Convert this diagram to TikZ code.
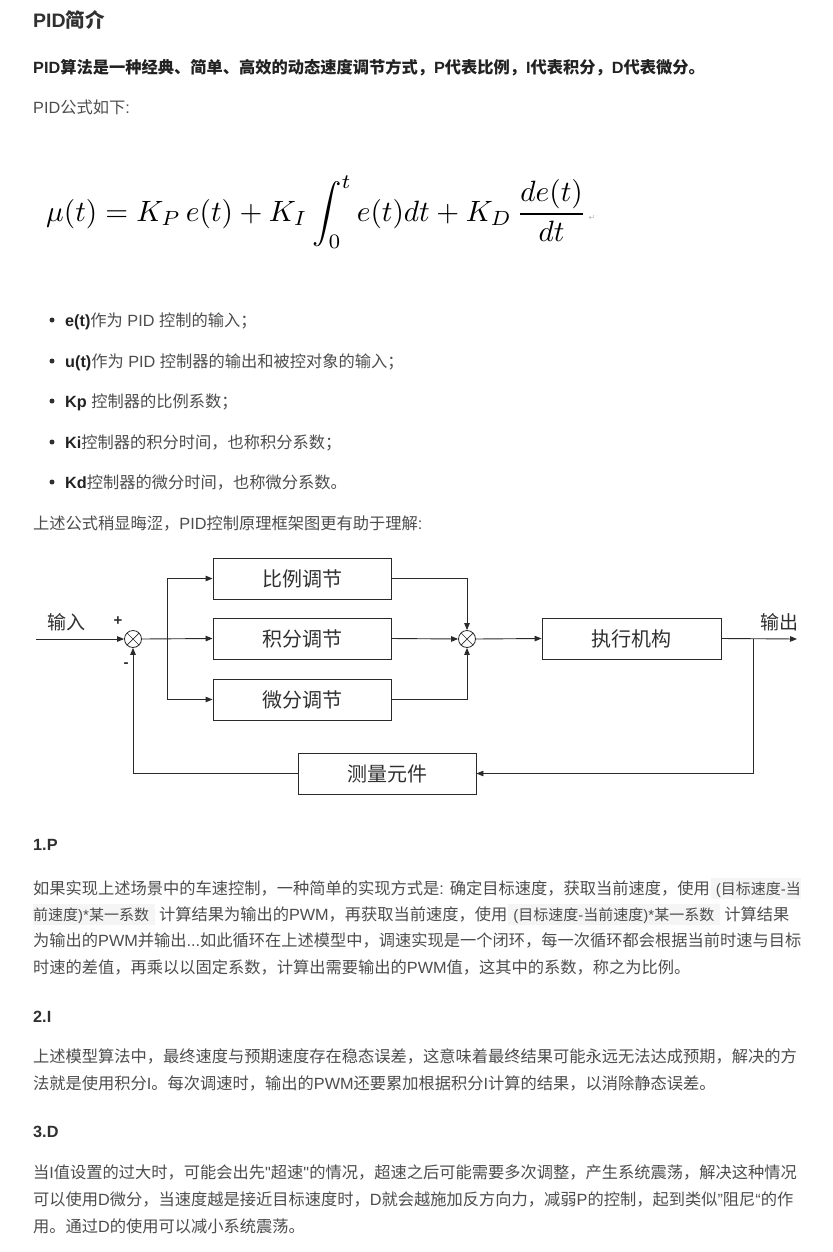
\documentclass[tikz,border=0pt]{standalone}
\usepackage{fontspec}
\setmainfont{Liberation Sans}[Ligatures=TeXOff]
\newfontfamily\cjkf{Noto Sans CJK SC}[Ligatures=TeXOff]
\newfontfamily\symfont{DejaVu Sans}
\usetikzlibrary{arrows.meta}
% automatic switch: CJK characters in Noto Sans CJK SC, Latin in Liberation Sans
\XeTeXinterchartokenstate=1
\newXeTeXintercharclass\cjkcls
\newXeTeXintercharclass\symcls
\count255="2E80
\loop\ifnum\count255<"A000 \XeTeXcharclass\count255=\cjkcls \advance\count255 by 1 \repeat
\count255="FF00
\loop\ifnum\count255<"FFF0 \XeTeXcharclass\count255=\cjkcls \advance\count255 by 1 \repeat
\XeTeXcharclass"21B5=\symcls
\XeTeXinterchartoks 0 \cjkcls = {\cjkf}
\XeTeXinterchartoks 4095 \cjkcls = {\cjkf}
\XeTeXinterchartoks \cjkcls 0 = {\rmfamily}
\XeTeXinterchartoks \cjkcls 4095 = {\rmfamily}
\XeTeXinterchartoks 4095 0 = {\rmfamily}
\definecolor{txt}{HTML}{4D4D4D}
\definecolor{head}{HTML}{303030}
\definecolor{boldtxt}{HTML}{222222}
\definecolor{codebg}{HTML}{F5F5F5}
\definecolor{ln}{HTML}{2A2A2A}
\newcommand{\cbox}[3]{{\setlength{\fboxsep}{0pt}\colorbox{codebg}{\fontsize{15}{17}\selectfont\hspace*{#1}\rule[-5pt]{0pt}{21pt}#3\hspace*{#2}}}}
\tikzset{
  para/.style={anchor=base west, inner sep=0pt, text=txt, font=\fontsize{16.25}{19}\selectfont},
  boldpara/.style={anchor=base west, inner sep=0pt, text=boldtxt, font=\fontsize{16.25}{19}\selectfont\bfseries},
  blk/.style={draw=ln, line width=0.9pt, minimum width=178pt, minimum height=41pt, inner sep=0pt, font=\fontsize{20}{24}\selectfont, text=head},
  sumj/.style={circle, draw=ln, line width=0.8pt, minimum size=17pt, inner sep=0pt,
    path picture={\draw[ln, line width=0.7pt] (path picture bounding box.north west) -- (path picture bounding box.south east) (path picture bounding box.north east) -- (path picture bounding box.south west);}},
  conn/.style={draw=ln, line width=0.9pt, -{Triangle[length=7pt,width=5.5pt]}},
  lbl/.style={inner sep=0pt, text=head, font=\fontsize{19}{22}\selectfont},
  sgn/.style={inner sep=0pt, text=head, font=\fontsize{15}{15}\selectfont\bfseries},
  bdot/.style={circle, fill=head, inner sep=0pt, minimum size=5pt}
}
\begin{document}
\begin{tikzpicture}[x=1pt,y=-1pt]
\path[use as bounding box, fill=white] (0,0) rectangle (832,1252);
% header
\node[anchor=base west, inner sep=0pt, text=head, font=\fontsize{19.5}{22}\selectfont\bfseries] (title) at (33,27.5) {PID简介};
\node[boldpara] (intro) at (33,74) {PID算法是一种经典、简单、高效的动态速度调节方式，P代表比例，I代表积分，D代表微分。};
\node[para] (fintro) at (33,114) {PID公式如下:};
\node[anchor=west, inner sep=0pt, text=black] (formula) at (46,212) {\resizebox{540pt}{!}{$\displaystyle \mu(t)=K_P\, e(t)+K_I\int_0^t e(t)dt+K_D\,\frac{de(t)}{dt}$}};
\node[inner sep=0pt, text=gray!55, font=\symfont\fontsize{8}{8}\selectfont] (ret) at (592,218) {↵};
% bullets
\node[bdot] (b1) at (52,320) {};
\node[para] (t1) at (65,326) {{\bfseries\color{boldtxt}e(t)}作为 PID 控制的输入；};
\node[bdot] (b2) at (52,361) {};
\node[para] (t2) at (65,367) {{\bfseries\color{boldtxt}u(t)}作为 PID 控制器的输出和被控对象的输入；};
\node[bdot] (b3) at (52,401) {};
\node[para] (t3) at (65,407) {{\bfseries\color{boldtxt}Kp} 控制器的比例系数；};
\node[bdot] (b4) at (52,442) {};
\node[para] (t4) at (65,448) {{\bfseries\color{boldtxt}Ki}控制器的积分时间，也称积分系数；};
\node[bdot] (b5) at (52,482) {};
\node[para] (t5) at (65,488) {{\bfseries\color{boldtxt}Kd}控制器的微分时间，也称微分系数。};
\node[para] (dintro) at (33,529) {上述公式稍显晦涩，PID控制原理框架图更有助于理解:};
% diagram
\node[blk] (P) at (302,578.5) {比例调节};
\node[blk] (I) at (302,638.5) {积分调节};
\node[blk] (D) at (302,699.5) {微分调节};
\node[blk, minimum width=179pt] (E) at (631.5,638.5) {执行机构};
\node[blk] (M) at (387,773.5) {测量元件};
\node[sumj] (S1) at (133,639) {};
\node[sumj] (S2) at (467,639) {};
\coordinate (in) at (36,639);
\coordinate (out) at (797,639);
\coordinate (br) at (167,639);
\coordinate (ob) at (753,639);
\node[lbl] (lin) at (66,622) {输入};
\node[lbl] (lout) at (779,622) {输出};
\node[sgn] (plus) at (118,621) {+};
\node[sgn] (minus) at (126,665) {-};
\draw[conn] (in) -- (S1.west);
\draw[conn] (S1.east) -- (I.west);
\draw[conn] (br) |- (P.west);
\draw[conn] (br) |- (D.west);
\draw[conn] (P.east) -| (S2.north);
\draw[conn] (I.east) -- (S2.west);
\draw[conn] (D.east) -| (S2.south);
\draw[conn] (S2.east) -- (E.west);
\draw[conn] (E.east) -- (out);
\draw[conn] (ob) |- (M.east);
\draw[conn] (M.west) -| (S1.south);
% section P
\node[boldpara, text=head] (h1) at (33,850) {1.P};
\node[para] (p1) at (33,894) {如果实现上述场景中的车速控制，一种简单的实现方式是: 确定目标速度，获取当前速度，使用\hspace{1pt}\cbox{5pt}{0pt}{(目标速度-当}};
\node[para] (p2) at (33,920) {\cbox{0pt}{6pt}{前速度)*某一系数}\hspace{4pt}计算结果为输出的PWM，再获取当前速度，使用\hspace{1pt}\cbox{5pt}{6pt}{(目标速度-当前速度)*某一系数}\hspace{4pt}计算结果};
\node[para] (p3) at (33,946) {为输出的PWM并输出...如此循环在上述模型中，调速实现是一个闭环，每一次循环都会根据当前时速与目标};
\node[para] (p4) at (33,973) {时速的差值，再乘以以固定系数，计算出需要输出的PWM值，这其中的系数，称之为比例。};
% section I
\node[boldpara, text=head] (h2) at (33,1022) {2.I};
\node[para] (i1) at (33,1062) {上述模型算法中，最终速度与预期速度存在稳态误差，这意味着最终结果可能永远无法达成预期，解决的方};
\node[para] (i2) at (33,1089) {法就是使用积分I。每次调速时，输出的PWM还要累加根据积分I计算的结果，以消除静态误差。};
% section D
\node[boldpara, text=head] (h3) at (33,1137) {3.D};
\node[para] (d1) at (33,1178) {当I值设置的过大时，可能会出先"超速"的情况，超速之后可能需要多次调整，产生系统震荡，解决这种情况};
\node[para] (d2) at (33,1205) {可以使用D微分，当速度越是接近目标速度时，D就会越施加反方向力，减弱P的控制，起到类似”阻尼“的作};
\node[para] (d3) at (33,1232) {用。通过D的使用可以减小系统震荡。};
\end{tikzpicture}
\end{document}
